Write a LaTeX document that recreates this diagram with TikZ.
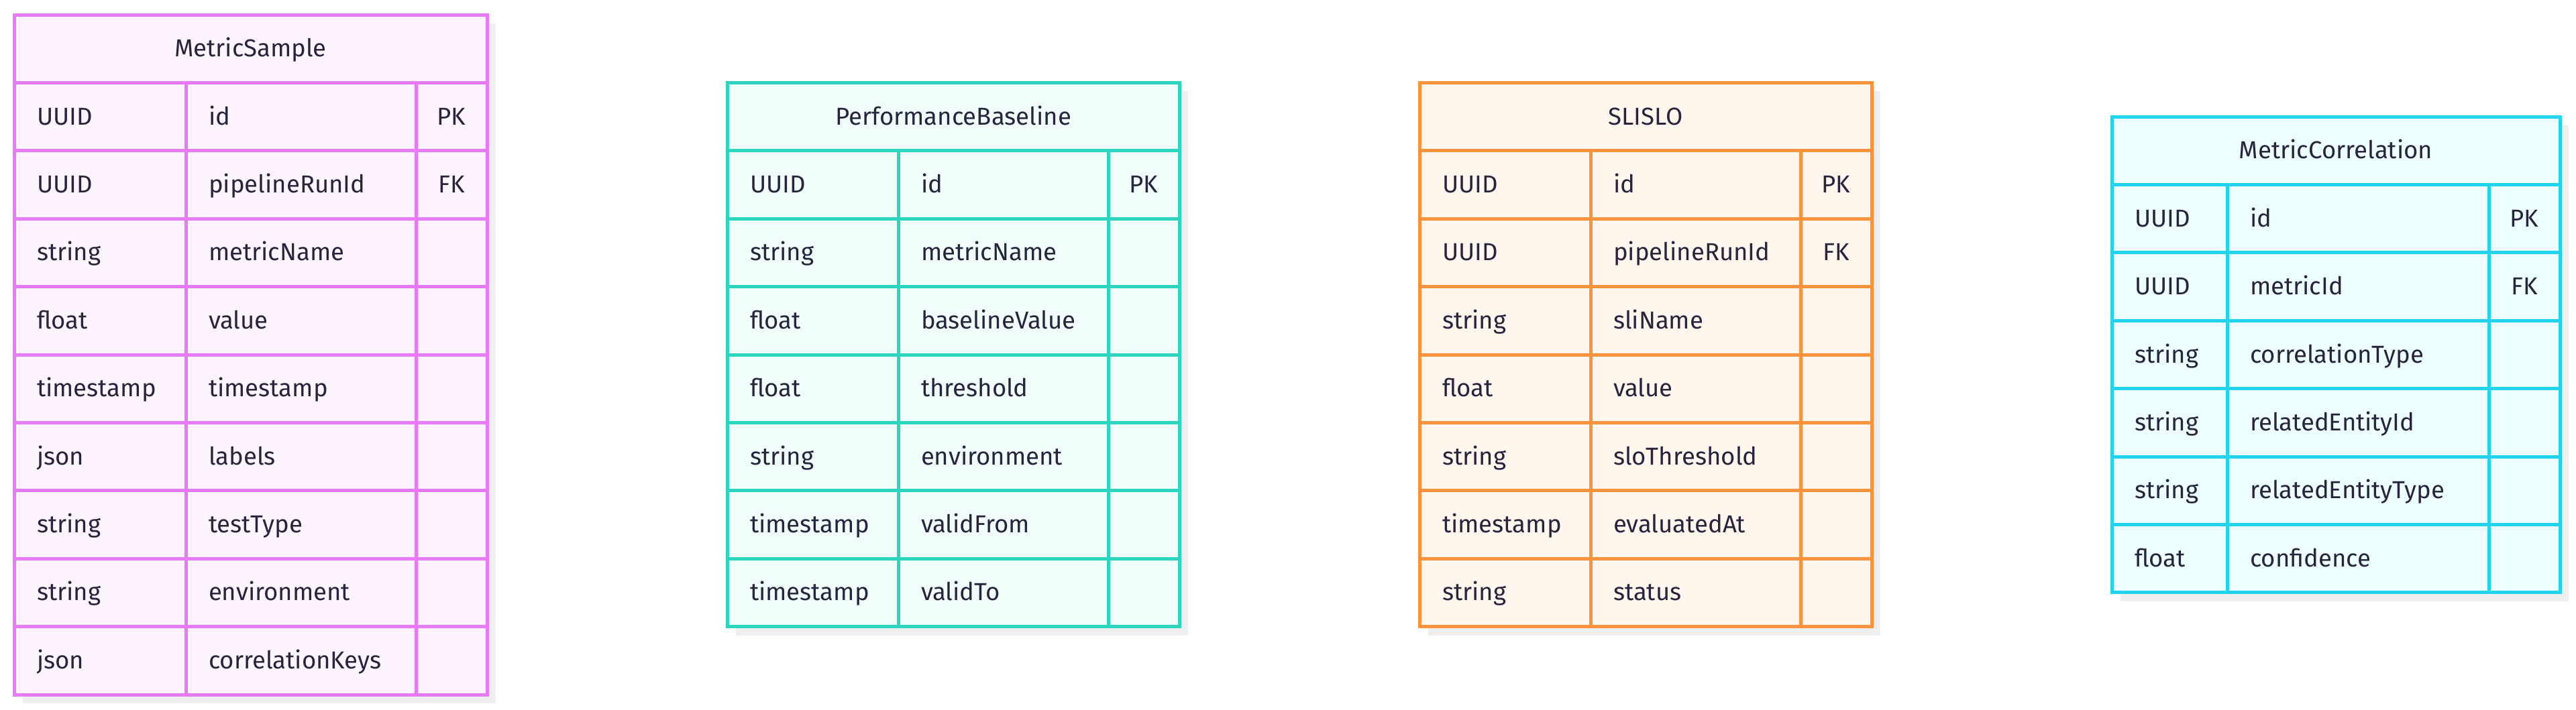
\documentclass[tikz,border=0pt]{standalone}
\usepackage{fontspec}
\setmainfont{Fira Sans}
\usepackage{tikz}
\usetikzlibrary{positioning,backgrounds}

\definecolor{ink}{HTML}{28243D}
\definecolor{msline}{HTML}{E879F9}
\definecolor{msfill}{HTML}{FDF4FF}
\definecolor{pbline}{HTML}{2DD4BF}
\definecolor{pbfill}{HTML}{F0FDFA}
\definecolor{slline}{HTML}{FB923C}
\definecolor{slfill}{HTML}{FFF7ED}
\definecolor{mcline}{HTML}{22D3EE}
\definecolor{mcfill}{HTML}{ECFEFF}
\definecolor{shadowgray}{HTML}{EFEFEF}

\begin{document}
\begin{tikzpicture}[auto,node distance=3.58cm]
	\tikzstyle{cell}=[draw, line width=0.05cm, minimum height=1.014cm, inner xsep=0.34cm, inner ysep=0pt, outer sep=0pt, text height=0.31cm, text depth=0.07cm, text=ink, font=\fontsize{10.4}{12}\selectfont]
	\tikzstyle{thead}=[cell, inner xsep=0pt]
	\tikzstyle{kcol}=[cell, inner xsep=0pt, minimum width=1.06cm]
	\tikzstyle{tcol}=[cell, align=left]
	\tikzstyle{ncol}=[cell, align=left]
	\tikzstyle{msbox}=[draw=msline, fill=msfill]
	\tikzstyle{pbbox}=[draw=pbline, fill=pbfill]
	\tikzstyle{slbox}=[draw=slline, fill=slfill]
	\tikzstyle{mcbox}=[draw=mcline, fill=mcfill]
	\tikzstyle{dropbox}=[fill=shadowgray]
	\useasboundingbox (0,0) rectangle (38.4,10.58);
	% MetricSample
		\node[thead, msbox, minimum width=7.05cm, anchor=north west] (ms_h) at (0.21,10.36) {MetricSample};
		\node[tcol, msbox, text width=1.88cm, below right=0pt and 0pt of ms_h.south west] (ms_t1) {UUID};
		\node[ncol, msbox, text width=2.75cm, right=0pt of ms_t1] (ms_n1) {id};
		\node[kcol, msbox, right=0pt of ms_n1] (ms_k1) {PK};
		\node[tcol, msbox, text width=1.88cm, below=0pt of ms_t1] (ms_t2) {UUID};
		\node[ncol, msbox, text width=2.75cm, right=0pt of ms_t2] (ms_n2) {pipelineRunId};
		\node[kcol, msbox, right=0pt of ms_n2] (ms_k2) {FK};
		\node[tcol, msbox, text width=1.88cm, below=0pt of ms_t2] (ms_t3) {string};
		\node[ncol, msbox, text width=2.75cm, right=0pt of ms_t3] (ms_n3) {metricName};
		\node[kcol, msbox, right=0pt of ms_n3] (ms_k3) {};
		\node[tcol, msbox, text width=1.88cm, below=0pt of ms_t3] (ms_t4) {float};
		\node[ncol, msbox, text width=2.75cm, right=0pt of ms_t4] (ms_n4) {value};
		\node[kcol, msbox, right=0pt of ms_n4] (ms_k4) {};
		\node[tcol, msbox, text width=1.88cm, below=0pt of ms_t4] (ms_t5) {timestamp};
		\node[ncol, msbox, text width=2.75cm, right=0pt of ms_t5] (ms_n5) {timestamp};
		\node[kcol, msbox, right=0pt of ms_n5] (ms_k5) {};
		\node[tcol, msbox, text width=1.88cm, below=0pt of ms_t5] (ms_t6) {json};
		\node[ncol, msbox, text width=2.75cm, right=0pt of ms_t6] (ms_n6) {labels};
		\node[kcol, msbox, right=0pt of ms_n6] (ms_k6) {};
		\node[tcol, msbox, text width=1.88cm, below=0pt of ms_t6] (ms_t7) {string};
		\node[ncol, msbox, text width=2.75cm, right=0pt of ms_t7] (ms_n7) {testType};
		\node[kcol, msbox, right=0pt of ms_n7] (ms_k7) {};
		\node[tcol, msbox, text width=1.88cm, below=0pt of ms_t7] (ms_t8) {string};
		\node[ncol, msbox, text width=2.75cm, right=0pt of ms_t8] (ms_n8) {environment};
		\node[kcol, msbox, right=0pt of ms_n8] (ms_k8) {};
		\node[tcol, msbox, text width=1.88cm, below=0pt of ms_t8] (ms_t9) {json};
		\node[ncol, msbox, text width=2.75cm, right=0pt of ms_t9] (ms_n9) {correlationKeys};
		\node[kcol, msbox, right=0pt of ms_n9] (ms_k9) {};
	% PerformanceBaseline
		\node[thead, pbbox, minimum width=6.74cm, below right=1.014cm and 3.58cm of ms_h.north east] (pb_h) {PerformanceBaseline};
		\node[tcol, pbbox, text width=1.87cm, below right=0pt and 0pt of pb_h.south west] (pb_t1) {UUID};
		\node[ncol, pbbox, text width=2.45cm, right=0pt of pb_t1] (pb_n1) {id};
		\node[kcol, pbbox, right=0pt of pb_n1] (pb_k1) {PK};
		\node[tcol, pbbox, text width=1.87cm, below=0pt of pb_t1] (pb_t2) {string};
		\node[ncol, pbbox, text width=2.45cm, right=0pt of pb_t2] (pb_n2) {metricName};
		\node[kcol, pbbox, right=0pt of pb_n2] (pb_k2) {};
		\node[tcol, pbbox, text width=1.87cm, below=0pt of pb_t2] (pb_t3) {float};
		\node[ncol, pbbox, text width=2.45cm, right=0pt of pb_t3] (pb_n3) {baselineValue};
		\node[kcol, pbbox, right=0pt of pb_n3] (pb_k3) {};
		\node[tcol, pbbox, text width=1.87cm, below=0pt of pb_t3] (pb_t4) {float};
		\node[ncol, pbbox, text width=2.45cm, right=0pt of pb_t4] (pb_n4) {threshold};
		\node[kcol, pbbox, right=0pt of pb_n4] (pb_k4) {};
		\node[tcol, pbbox, text width=1.87cm, below=0pt of pb_t4] (pb_t5) {string};
		\node[ncol, pbbox, text width=2.45cm, right=0pt of pb_t5] (pb_n5) {environment};
		\node[kcol, pbbox, right=0pt of pb_n5] (pb_k5) {};
		\node[tcol, pbbox, text width=1.87cm, below=0pt of pb_t5] (pb_t6) {timestamp};
		\node[ncol, pbbox, text width=2.45cm, right=0pt of pb_t6] (pb_n6) {validFrom};
		\node[kcol, pbbox, right=0pt of pb_n6] (pb_k6) {};
		\node[tcol, pbbox, text width=1.87cm, below=0pt of pb_t6] (pb_t7) {timestamp};
		\node[ncol, pbbox, text width=2.45cm, right=0pt of pb_t7] (pb_n7) {validTo};
		\node[kcol, pbbox, right=0pt of pb_n7] (pb_k7) {};
	% SLISLO
		\node[thead, slbox, minimum width=6.74cm, right=of pb_h] (sl_h) {SLISLO};
		\node[tcol, slbox, text width=1.87cm, below right=0pt and 0pt of sl_h.south west] (sl_t1) {UUID};
		\node[ncol, slbox, text width=2.45cm, right=0pt of sl_t1] (sl_n1) {id};
		\node[kcol, slbox, right=0pt of sl_n1] (sl_k1) {PK};
		\node[tcol, slbox, text width=1.87cm, below=0pt of sl_t1] (sl_t2) {UUID};
		\node[ncol, slbox, text width=2.45cm, right=0pt of sl_t2] (sl_n2) {pipelineRunId};
		\node[kcol, slbox, right=0pt of sl_n2] (sl_k2) {FK};
		\node[tcol, slbox, text width=1.87cm, below=0pt of sl_t2] (sl_t3) {string};
		\node[ncol, slbox, text width=2.45cm, right=0pt of sl_t3] (sl_n3) {sliName};
		\node[kcol, slbox, right=0pt of sl_n3] (sl_k3) {};
		\node[tcol, slbox, text width=1.87cm, below=0pt of sl_t3] (sl_t4) {float};
		\node[ncol, slbox, text width=2.45cm, right=0pt of sl_t4] (sl_n4) {value};
		\node[kcol, slbox, right=0pt of sl_n4] (sl_k4) {};
		\node[tcol, slbox, text width=1.87cm, below=0pt of sl_t4] (sl_t5) {string};
		\node[ncol, slbox, text width=2.45cm, right=0pt of sl_t5] (sl_n5) {sloThreshold};
		\node[kcol, slbox, right=0pt of sl_n5] (sl_k5) {};
		\node[tcol, slbox, text width=1.87cm, below=0pt of sl_t5] (sl_t6) {timestamp};
		\node[ncol, slbox, text width=2.45cm, right=0pt of sl_t6] (sl_n6) {evaluatedAt};
		\node[kcol, slbox, right=0pt of sl_n6] (sl_k6) {};
		\node[tcol, slbox, text width=1.87cm, below=0pt of sl_t6] (sl_t7) {string};
		\node[ncol, slbox, text width=2.45cm, right=0pt of sl_t7] (sl_n7) {status};
		\node[kcol, slbox, right=0pt of sl_n7] (sl_k7) {};
	% MetricCorrelation
		\node[thead, mcbox, minimum width=6.68cm, below right=0.507cm and 3.58cm of sl_h.north east] (mc_h) {MetricCorrelation};
		\node[tcol, mcbox, text width=1.04cm, below right=0pt and 0pt of mc_h.south west] (mc_t1) {UUID};
		\node[ncol, mcbox, text width=3.22cm, right=0pt of mc_t1] (mc_n1) {id};
		\node[kcol, mcbox, right=0pt of mc_n1] (mc_k1) {PK};
		\node[tcol, mcbox, text width=1.04cm, below=0pt of mc_t1] (mc_t2) {UUID};
		\node[ncol, mcbox, text width=3.22cm, right=0pt of mc_t2] (mc_n2) {metricId};
		\node[kcol, mcbox, right=0pt of mc_n2] (mc_k2) {FK};
		\node[tcol, mcbox, text width=1.04cm, below=0pt of mc_t2] (mc_t3) {string};
		\node[ncol, mcbox, text width=3.22cm, right=0pt of mc_t3] (mc_n3) {correlationType};
		\node[kcol, mcbox, right=0pt of mc_n3] (mc_k3) {};
		\node[tcol, mcbox, text width=1.04cm, below=0pt of mc_t3] (mc_t4) {string};
		\node[ncol, mcbox, text width=3.22cm, right=0pt of mc_t4] (mc_n4) {relatedEntityId};
		\node[kcol, mcbox, right=0pt of mc_n4] (mc_k4) {};
		\node[tcol, mcbox, text width=1.04cm, below=0pt of mc_t4] (mc_t5) {string};
		\node[ncol, mcbox, text width=3.22cm, right=0pt of mc_t5] (mc_n5) {relatedEntityType};
		\node[kcol, mcbox, right=0pt of mc_n5] (mc_k5) {};
		\node[tcol, mcbox, text width=1.04cm, below=0pt of mc_t5] (mc_t6) {float};
		\node[ncol, mcbox, text width=3.22cm, right=0pt of mc_t6] (mc_n6) {confidence};
		\node[kcol, mcbox, right=0pt of mc_n6] (mc_k6) {};
	% shadows
	\begin{pgfonlayer}{background}
		\fill[dropbox] ([shift={(0.13,-0.13)}]ms_h.north west) rectangle ([shift={(0.13,-0.13)}]ms_k9.south east);
		\fill[dropbox] ([shift={(0.13,-0.13)}]pb_h.north west) rectangle ([shift={(0.13,-0.13)}]pb_k7.south east);
		\fill[dropbox] ([shift={(0.13,-0.13)}]sl_h.north west) rectangle ([shift={(0.13,-0.13)}]sl_k7.south east);
		\fill[dropbox] ([shift={(0.13,-0.13)}]mc_h.north west) rectangle ([shift={(0.13,-0.13)}]mc_k6.south east);
	\end{pgfonlayer}
\end{tikzpicture}
\end{document}
